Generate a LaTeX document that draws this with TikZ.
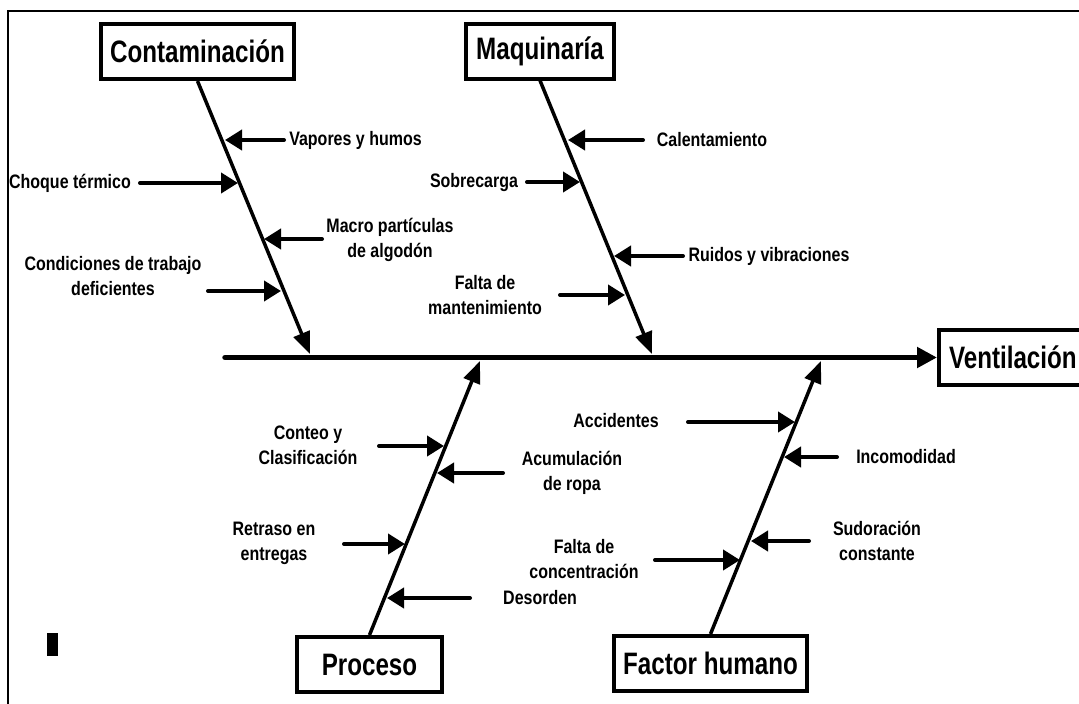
\documentclass[tikz,border=0pt]{standalone}
\usepackage{fontspec}
\setmainfont{Liberation Sans}[FakeStretch=0.82]
\newfontfamily\catfam{Liberation Sans}[FakeStretch=0.78]
\usetikzlibrary{arrows.meta}

\newcommand\lblfont{\fontsize{19.5}{25}\selectfont\bfseries}
\newcommand\catfont{\catfam\fontsize{31}{36}\selectfont\bfseries}

\tikzset{
  cat/.style={draw, line width=4pt, font=\catfont, minimum height=55pt, inner sep=0pt},
  lbl/.style={font=\lblfont, align=center, inner sep=0pt},
  spine/.style={line width=5.5pt, line cap=round, -{Triangle[length=20pt,width=20pt]}},
  bone/.style={line width=3.5pt, -{Triangle[length=22pt,width=17pt]}},
  cause/.style={line width=4pt, line cap=round, -{Triangle[length=17pt,width=20pt]}},
}

\begin{document}
\begin{tikzpicture}[x=1pt,y=-1pt]
  \useasboundingbox (0,0) rectangle (1079,704);

  % FRAME
  \draw[line width=2.5pt] (8,704) -- (8,11) -- (1079,11);
  \fill (46.5,633) rectangle (58,656);

  % CATEGORIES
  \node[cat, minimum width=193pt] (cont) at (197.5,51.5) {Contaminación};
  \node[cat, minimum width=148pt] (maq)  at (540,51) {Maquinaría};
  \node[cat, minimum width=145pt] (proc) at (369.5,664.5) {Proceso};
  \node[cat, minimum width=193pt] (fh)   at (710.5,663.5) {Factor humano};
  \node[cat, anchor=west, minimum width=170pt, text width=150pt, align=left] (vent) at (937,357.5) {Ventilación};

  % SPINE AND BONES
  \coordinate (spineL) at (225,357.5);
  \coordinate (contE) at (310,354);
  \coordinate (maqE)  at (652,354);
  \coordinate (procE) at (480,361);
  \coordinate (fhE)   at (821,361);

  \draw[spine] (spineL) -- (vent.west);
  \draw[bone] (cont.south) -- (contE);
  \draw[bone] (maq.south)  -- (maqE);
  \draw[bone] (proc.north) -- (procE);
  \draw[bone] (fh.north)   -- (fhE);

  % CAUSES
  \foreach \n/\xa/\xb/\y in {
    vap/284/225/140, choq/140/238/183, macro/322/264/239, cond/208/281/291,
    cal/643/568/140, sobr/527/580/182, ruid/683/614/256, falm/560/625/295,
    conteo/379/444/446, acum/503/437/473, retr/344/405/544, deso/470/387/598,
    acc/688/795/422, inco/837/784/457, sudo/809/751/541, falc/655/740/560}
  {
    \coordinate (\n-t) at (\xa,\y);
    \coordinate (\n-h) at (\xb,\y);
    \draw[cause] (\n-t) -- (\n-h);
  }

  \node[lbl] (vapL)    at (355.5,140) {Vapores y humos};
  \node[lbl] (choqL)   at (70,183)    {Choque térmico};
  \node[lbl] (macroL)  at (390,239.5) {Macro partículas\\de algodón};
  \node[lbl] (condL)   at (113,276.5) {Condiciones de trabajo\\deficientes};
  \node[lbl] (calL)    at (712,140)   {Calentamiento};
  \node[lbl] (sobrL)   at (474,182)   {Sobrecarga};
  \node[lbl] (ruidL)   at (769,256)   {Ruidos y vibraciones};
  \node[lbl] (falmL)   at (485,295.5) {Falta de\\mantenimiento};
  \node[lbl] (conteoL) at (308,445)   {Conteo y\\Clasificación};
  \node[lbl] (acumL)   at (572,472.5) {Acumulación\\de ropa};
  \node[lbl] (retrL)   at (274,543.5) {Retraso en\\entregas};
  \node[lbl, anchor=west] (desoL) at (503,598) {Desorden};
  \node[lbl] (accL)    at (616,421)   {Accidentes};
  \node[lbl] (incoL)   at (906,457)   {Incomodidad};
  \node[lbl] (sudoL)   at (877,540.5) {Sudoración\\constante};
  \node[lbl] (falcL)   at (584,559)   {Falta de\\concentración};

\end{tikzpicture}
\end{document}
